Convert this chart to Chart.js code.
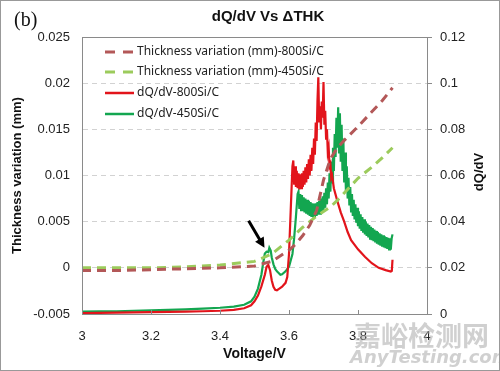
<!DOCTYPE html>
<html>
<head>
<meta charset="UTF-8">
<title>dQ/dV Vs ΔTHK</title>
<script src="https://cdn.jsdelivr.net/npm/chart.js"></script>
<style>
  html, body { margin: 0; padding: 0; background: #fff; }
  #wrap { width: 500px; height: 371px; }
</style>
</head>
<body>
<div id="wrap"><canvas id="chart" width="500" height="371"></canvas></div>
<script>
// thickness variation (left axis, mm)
const thickVolt = [3.0, 3.1, 3.2, 3.3, 3.4, 3.5, 3.55, 3.6, 3.62, 3.64, 3.66, 3.68, 3.70, 3.72, 3.74, 3.76, 3.80, 3.84, 3.87, 3.90];
const thick800 = [-0.0003, -0.0003, -0.0002, -0.0001, 0.0000, 0.0002, 0.0007, 0.0019, 0.0026, 0.0035, 0.0046, 0.0062, 0.0095, 0.0118, 0.0130, 0.0138, 0.0153, 0.0169, 0.0181, 0.0195];
const thick450 = [0.0000, 0.0000, 0.0000, 0.0001, 0.0003, 0.0007, 0.0015, 0.0030, 0.0037, 0.0044, 0.0050, 0.0056, 0.0061, 0.0066, 0.0073, 0.0081, 0.0097, 0.0109, 0.0119, 0.0130];

// dQ/dV curves (right axis)
const volt800 = [3.00, 3.05, 3.10, 3.15, 3.20, 3.25, 3.30, 3.35, 3.40, 3.44, 3.47, 3.49, 3.50, 3.51, 3.52, 3.53, 3.535, 3.54, 3.545, 3.55, 3.555, 3.56, 3.565, 3.57, 3.58, 3.59, 3.595, 3.60, 3.605,
  3.610, 3.6125, 3.615, 3.6175, 3.620, 3.6225, 3.625, 3.6275, 3.630, 3.6325, 3.635, 3.6375, 3.640, 3.6425, 3.645, 3.6475, 3.650, 3.6525, 3.655, 3.6575, 3.660, 3.6625, 3.665, 3.6675, 3.670, 3.6725, 3.675, 3.6775, 3.680, 3.6825,
  3.685, 3.6875, 3.690, 3.6925, 3.695, 3.6975, 3.700, 3.7025, 3.705, 3.7075, 3.710, 3.7125, 3.715, 3.7175, 3.720, 3.7225, 3.725, 3.730,
  3.74, 3.75, 3.76, 3.77, 3.78, 3.80, 3.82, 3.84, 3.86, 3.88, 3.895, 3.898, 3.90];
const dqdv800 = [0.0004, 0.0005, 0.0006, 0.0007, 0.0008, 0.0009, 0.0010, 0.0012, 0.0014, 0.0018, 0.0025, 0.0038, 0.0055, 0.0080, 0.0120, 0.0170, 0.0205, 0.0213, 0.0190, 0.0145, 0.0118, 0.0105, 0.0103, 0.0108, 0.0118, 0.0135, 0.0160, 0.0260, 0.0450,
  0.0640, 0.0665, 0.0560, 0.0640, 0.0550, 0.0620, 0.0545, 0.0610, 0.0540, 0.0605, 0.0545, 0.0610, 0.0550, 0.0620, 0.0560, 0.0635, 0.0570, 0.0650, 0.0585, 0.0670, 0.0600, 0.0690, 0.0620, 0.0720, 0.0650, 0.0760, 0.0690, 0.0830, 0.0750, 0.0920,
  0.1026, 0.0830, 0.0900, 0.0800, 0.0920, 0.0850, 0.1005, 0.0820, 0.0880, 0.0760, 0.0800, 0.0700, 0.0720, 0.0640, 0.0650, 0.0590, 0.0600, 0.0545,
  0.0490, 0.0440, 0.0400, 0.0355, 0.0320, 0.0280, 0.0248, 0.0220, 0.0200, 0.0190, 0.0184, 0.0187, 0.0235];

const volt450 = [3.00, 3.05, 3.10, 3.15, 3.20, 3.25, 3.30, 3.35, 3.40, 3.44, 3.47, 3.49, 3.50, 3.51, 3.52, 3.525, 3.53, 3.535, 3.54, 3.543, 3.547, 3.55, 3.555, 3.56, 3.565, 3.57, 3.575, 3.58, 3.59, 3.60, 3.61, 3.615, 3.62, 3.625,
  3.6275, 3.630, 3.6325, 3.635, 3.6375, 3.640, 3.6425, 3.645, 3.6475, 3.650, 3.6525, 3.655, 3.6575, 3.660, 3.6625, 3.665, 3.6675, 3.670, 3.6725, 3.675,
  3.6775, 3.680, 3.6825, 3.685, 3.6875, 3.690, 3.6925, 3.695, 3.6975, 3.700, 3.7025, 3.705, 3.7075, 3.710, 3.7125, 3.715, 3.7175, 3.720, 3.7225, 3.725,
  3.7275, 3.730, 3.7325, 3.735, 3.7375, 3.740, 3.7425, 3.745, 3.7475, 3.750, 3.7525, 3.755, 3.7575, 3.760, 3.7625, 3.765, 3.7675, 3.770, 3.7725, 3.775,
  3.7775, 3.780, 3.7825, 3.785, 3.7875, 3.790, 3.7925, 3.795, 3.7975, 3.800, 3.8025, 3.805, 3.8075, 3.810, 3.8125, 3.815, 3.8175, 3.820, 3.8225, 3.825,
  3.8275, 3.830, 3.8325, 3.835, 3.8375, 3.840, 3.8425, 3.845, 3.8475, 3.850, 3.8525, 3.855, 3.8575, 3.860, 3.8625, 3.865, 3.8675, 3.870, 3.8725, 3.875,
  3.8775, 3.880, 3.8825, 3.885, 3.8875, 3.890, 3.8925, 3.895, 3.8975, 3.900];
const dqdv450 = [0.0010, 0.0011, 0.0012, 0.0014, 0.0016, 0.0018, 0.0020, 0.0023, 0.0027, 0.0032, 0.0040, 0.0055, 0.0075, 0.0110, 0.0170, 0.0220, 0.0262, 0.0270, 0.0268, 0.0287, 0.0275, 0.0245, 0.0215, 0.0195, 0.0185, 0.0178, 0.0170, 0.0172, 0.0185, 0.0205, 0.0260, 0.0330, 0.0420, 0.0520,
  0.0530, 0.0455, 0.0520, 0.0450, 0.0515, 0.0445, 0.0505, 0.0440, 0.0500, 0.0435, 0.0495, 0.0430, 0.0490, 0.0425, 0.0485, 0.0420, 0.0480, 0.0418, 0.0478, 0.0420,
  0.0480, 0.0425, 0.0485, 0.0430, 0.0490, 0.0435, 0.0500, 0.0440, 0.0510, 0.0450, 0.0525, 0.0460, 0.0545, 0.0475, 0.0570, 0.0500, 0.0610, 0.0530, 0.0660, 0.0570,
  0.0720, 0.0620, 0.0780, 0.0680, 0.0850, 0.0720, 0.0896, 0.0700, 0.0870, 0.0660, 0.0820, 0.0620, 0.0760, 0.0570, 0.0700, 0.0530, 0.0640, 0.0500, 0.0590, 0.0470,
  0.0550, 0.0445, 0.0520, 0.0425, 0.0495, 0.0410, 0.0475, 0.0395, 0.0460, 0.0380, 0.0445, 0.0370, 0.0432, 0.0360, 0.0420, 0.0352, 0.0410, 0.0345, 0.0400, 0.0338,
  0.0392, 0.0332, 0.0385, 0.0326, 0.0378, 0.0320, 0.0372, 0.0315, 0.0366, 0.0310, 0.0360, 0.0305, 0.0355, 0.0300, 0.0350, 0.0296, 0.0345, 0.0292, 0.0341, 0.0288,
  0.0337, 0.0285, 0.0333, 0.0282, 0.0330, 0.0280, 0.0328, 0.0279, 0.0327, 0.0345];

// arrow annotation, in data units (voltage, dQ/dV)
const arrowFrom = [3.483, 0.0404];
const arrowTo = [3.529, 0.0287];

const pts = (xs, ys) => xs.map((x, i) => ({ x: x, y: ys[i] }));
const fmt = v => String(Number(v.toFixed(4)));

// legend drawn inside the plot, top left
const insideLegend = {
  id: 'insideLegend',
  afterDatasetsDraw(chart) {
    const ctx = chart.ctx;
    const rows = [52, 72, 93, 114];
    ctx.save();
    ctx.font = '12px "Noto Sans"';
    ctx.textBaseline = 'middle';
    chart.data.datasets.forEach((ds, i) => {
      const y = rows[i];
      ctx.strokeStyle = ds.borderColor;
      ctx.lineWidth = ds.borderDash ? 3 : 2.5;
      ctx.setLineDash(ds.borderDash ? [10, 8] : []);
      ctx.beginPath();
      ctx.moveTo(105, y);
      ctx.lineTo(134, y);
      ctx.stroke();
      ctx.fillStyle = '#222';
      ctx.fillText(ds.label, 137, y);
    });
    ctx.restore();
  }
};

const decorations = {
  id: 'decorations',
  afterDraw(chart) {
    const ctx = chart.ctx;
    const a = chart.chartArea;
    const xs = chart.scales.x, yd = chart.scales.yD;
    ctx.save();
    // plot frame
    ctx.strokeStyle = '#8a8a8a';
    ctx.lineWidth = 1;
    ctx.setLineDash([]);
    ctx.strokeRect(a.left + 0.5, a.top + 0.5, a.right - a.left, a.bottom - a.top);
    // inward x ticks
    xs.ticks.forEach(t => {
      const px = Math.round(xs.getPixelForValue(t.value)) + 0.5;
      ctx.beginPath();
      ctx.moveTo(px, a.bottom);
      ctx.lineTo(px, a.bottom - 4);
      ctx.stroke();
    });
    // arrow
    const x1 = xs.getPixelForValue(arrowFrom[0]), y1 = yd.getPixelForValue(arrowFrom[1]);
    const x2 = xs.getPixelForValue(arrowTo[0]), y2 = yd.getPixelForValue(arrowTo[1]);
    const ang = Math.atan2(y2 - y1, x2 - x1);
    ctx.strokeStyle = '#000';
    ctx.fillStyle = '#000';
    ctx.lineWidth = 3;
    ctx.beginPath();
    ctx.moveTo(x1, y1);
    ctx.lineTo(x2 - 7 * Math.cos(ang), y2 - 7 * Math.sin(ang));
    ctx.stroke();
    ctx.beginPath();
    ctx.moveTo(x2, y2);
    ctx.lineTo(x2 - 10 * Math.cos(ang) + 5 * Math.sin(ang), y2 - 10 * Math.sin(ang) - 5 * Math.cos(ang));
    ctx.lineTo(x2 - 10 * Math.cos(ang) - 5 * Math.sin(ang), y2 - 10 * Math.sin(ang) + 5 * Math.cos(ang));
    ctx.closePath();
    ctx.fill();
    // title and panel label
    ctx.fillStyle = '#111';
    ctx.textAlign = 'center';
    ctx.textBaseline = 'middle';
    ctx.font = 'bold 15px "Liberation Sans"';
    ctx.fillText('dQ/dV Vs ΔTHK', 268, 17);
    // right axis title, reading bottom to top
    ctx.save();
    ctx.translate(479, 172);
    ctx.rotate(-Math.PI / 2);
    ctx.font = 'bold 13px "Liberation Sans"';
    ctx.fillText('dQ/dV', 0, 0);
    ctx.restore();
    ctx.textAlign = 'left';
    ctx.font = '20px "Liberation Serif"';
    ctx.fillText('(b)', 14, 21);
    // watermark
    ctx.fillStyle = 'rgba(170,170,170,0.55)';
    ctx.font = 'bold 27px "Noto Sans CJK SC"';
    ctx.fillText('嘉峪检测网', 354, 336);
    ctx.font = 'italic bold 18px "DejaVu Sans"';
    ctx.fillText('AnyTesting.com', 350, 358);
    // outer border
    ctx.strokeStyle = '#999';
    ctx.lineWidth = 1;
    ctx.strokeRect(0.5, 0.5, 499, 370);
    ctx.restore();
  }
};

const tickFont = { family: '"Liberation Sans"', size: 13 };
const titleFont = { family: '"Liberation Sans"', size: 13, weight: 'bold' };

new Chart(document.getElementById('chart'), {
  type: 'line',
  data: {
    datasets: [
      { label: 'Thickness variation (mm)-800Si/C', data: pts(thickVolt, thick800), yAxisID: 'yT',
        borderColor: '#b35858', borderWidth: 3, borderDash: [9, 6] },
      { label: 'Thickness variation (mm)-450Si/C', data: pts(thickVolt, thick450), yAxisID: 'yT',
        borderColor: '#9ccb5c', borderWidth: 3, borderDash: [9, 6] },
      { label: 'dQ/dV-800Si/C', data: pts(volt800, dqdv800), yAxisID: 'yD',
        borderColor: '#e2141b', borderWidth: 2.2 },
      { label: 'dQ/dV-450Si/C', data: pts(volt450, dqdv450), yAxisID: 'yD',
        borderColor: '#13a650', borderWidth: 2.2 }
    ]
  },
  options: {
    responsive: false,
    animation: false,
    layout: { padding: { top: 37, left: 0, right: 0, bottom: 0 } },
    elements: { point: { radius: 0 }, line: { tension: 0 } },
    plugins: { legend: { display: false }, tooltip: { enabled: false } },
    scales: {
      x: {
        type: 'linear', min: 3, max: 4,
        ticks: { stepSize: 0.2, color: '#222', font: tickFont, padding: 7, callback: fmt },
        grid: { display: false },
        border: { color: '#8a8a8a' },
        title: { display: true, text: 'Voltage/V', color: '#111', font: { family: '"Liberation Sans"', size: 14, weight: 'bold' }, padding: { top: 2, bottom: 8 } },
        afterFit: s => { s.height = 57; }
      },
      yT: {
        position: 'left', min: -0.005, max: 0.025,
        ticks: { stepSize: 0.005, color: '#222', font: tickFont, padding: 12, callback: fmt },
        grid: { color: '#d2d2d2', drawTicks: false },
        border: { color: '#8a8a8a', dash: [5, 4] },
        title: { display: true, text: 'Thickness variation (mm)', color: '#111', font: titleFont, padding: { top: 10, bottom: 0 } },
        afterFit: s => { s.width = 82; }
      },
      yD: {
        position: 'right', min: 0, max: 0.12,
        ticks: { stepSize: 0.02, color: '#222', font: tickFont, padding: 8, callback: fmt },
        grid: { drawOnChartArea: false, tickLength: 5, color: '#8a8a8a' },
        border: { color: '#8a8a8a' },
        title: { display: false },
        afterFit: s => { s.width = 73; }
      }
    }
  },
  plugins: [insideLegend, decorations]
});
</script>
</body>
</html>
